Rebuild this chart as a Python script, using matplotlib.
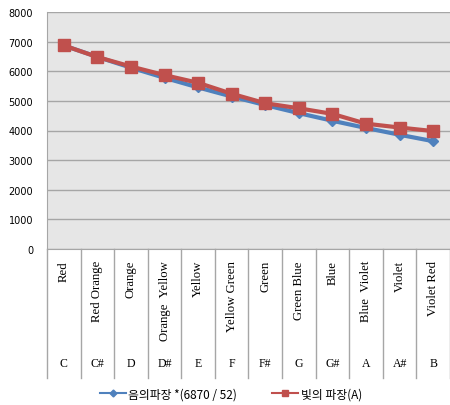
import matplotlib
matplotlib.use("Agg")
import matplotlib.pyplot as plt
import matplotlib.transforms as mtransforms
from matplotlib.lines import Line2D
import numpy as np

colors = ["Red", "Red Orange", "Orange", "Orange  Yellow", "Yellow", "Yellow Green",
          "Green", "Green Blue", "Blue", "Blue  Violet", "Violet", "Violet Red"]
notes = ["C", "C#", "D", "D#", "E", "F", "F#", "G", "G#", "A", "A#", "B"]
sound_wave = [6870, 6484, 6120, 5777, 5453, 5147, 4858, 4585, 4328, 4085, 3856, 3639]
light_wave = [6870, 6480, 6160, 5870, 5610, 5240, 4920, 4750, 4560, 4230, 4100, 3980]

x = np.arange(len(colors))
blue = "#4F81BD"
red = "#C0504D"

fig = plt.figure(figsize=(4.5, 4.06), dpi=100)
ax = fig.add_axes([47/450, 156/406, 403/450, 237/406])
ax.set_facecolor("#E6E6E6")
ax.set_xlim(-0.5, len(colors) - 0.5)
ax.set_ylim(0, 8000)
ax.set_yticks(range(0, 8001, 1000))
ax.yaxis.grid(True, color="#A6A6A6", linewidth=1.0)
ax.set_axisbelow(True)
ax.tick_params(axis="y", length=0, pad=10, labelsize=7)
ax.tick_params(axis="x", length=0, labelbottom=False)
for s in ["top", "right"]:
    ax.spines[s].set_visible(False)
ax.spines["left"].set_color("#A6A6A6")
ax.spines["bottom"].set_color("#A6A6A6")

ax.plot(x, sound_wave, color=blue, linewidth=3, marker="D", markersize=5)
ax.plot(x, light_wave, color=red, linewidth=3, marker="s", markersize=8)

# multi-level category axis
trans = mtransforms.blended_transform_factory(ax.transData, ax.transAxes)
bot = -(379 - 250) / 237
for k in range(len(colors) + 1):
    ax.plot([k - 0.5, k - 0.5], [0, bot], transform=trans, color="#A6A6A6",
            linewidth=1, clip_on=False)
for i in x:
    ax.text(i, -11 / 237, colors[i], transform=trans, rotation=90, ha="center",
            va="top", fontsize=9.2, family="Liberation Serif")
    ax.text(i, -(364 - 250) / 237, notes[i], transform=trans, ha="center",
            va="center", fontsize=8.5, family="Liberation Serif")

handles = [Line2D([], [], color=blue, linewidth=1.5, marker="D", markersize=3.5),
           Line2D([], [], color=red, linewidth=1.5, marker="s", markersize=5)]
fig.legend(handles, ["음의파장 *(6870 / 52)", "빛의 파장(A)"],
           loc="center", bbox_to_anchor=(0.513, 1 - 395/406), ncol=2, frameon=False,
           prop={"family": ["Noto Sans CJK KR", "DejaVu Sans"], "size": 8.5},
           handlelength=2.2, columnspacing=3.0, handletextpad=0.2)

fig.savefig("out.png", dpi=100)
